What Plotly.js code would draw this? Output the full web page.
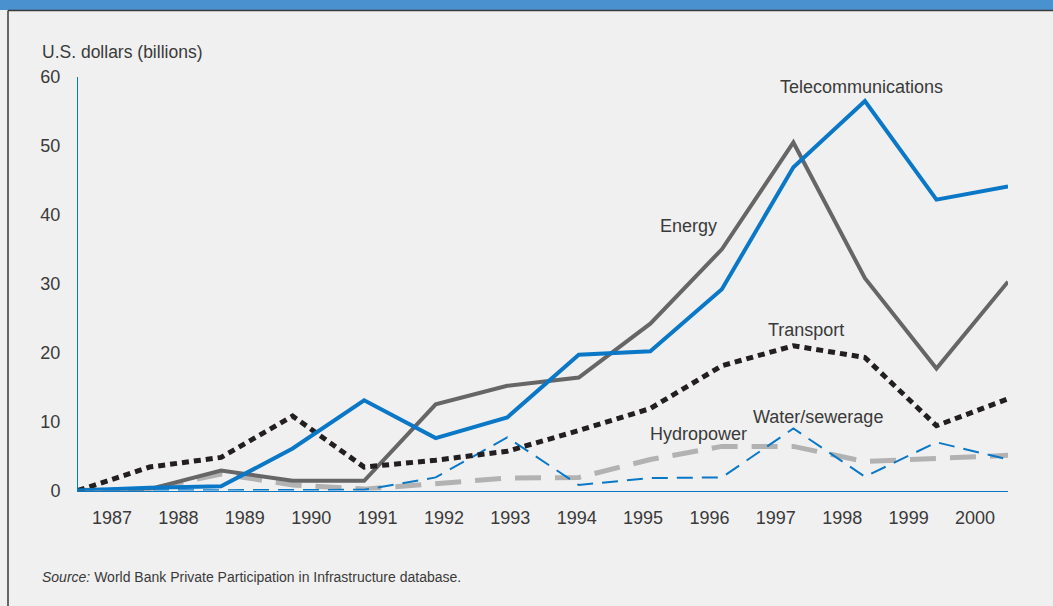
<!DOCTYPE html>
<html>
<head>
<meta charset="utf-8">
<script src="https://cdn.plot.ly/plotly-3.0.1.min.js"></script>
<style>
  body { margin: 0; background: #f0f0f0; }
  #plotArea { width: 1053px; height: 606px; }
</style>
</head>
<body>
<div id="plotArea"></div>
<script>
var years = [1987, 1988, 1989, 1990, 1991, 1992, 1993, 1994, 1995, 1996, 1997, 1998, 1999, 2000];
var telecom = [0, 0.4, 0.6, 6.1, 13.1, 7.6, 10.6, 19.7, 20.2, 29.2, 46.9, 56.5, 42.2, 44.1];
var energy = [0, 0.2, 2.9, 1.4, 1.4, 12.5, 15.2, 16.4, 24.2, 35.0, 50.5, 30.8, 17.7, 30.3];
var transport = [0, 3.4, 4.8, 10.8, 3.4, 4.4, 5.7, 8.7, 11.9, 18.1, 21.0, 19.3, 9.4, 13.3];
var water = [0, 0, 0.1, 0, 0.1, 1.9, 7.7, 0.8, 1.8, 1.9, 9.0, 2.0, 7.0, 4.5];
var hydro = [0, 0.2, 2.4, 0.8, 0.2, 1.0, 1.8, 1.9, 4.5, 6.4, 6.4, 4.2, 4.7, 5.1];

var blue = "#0a78c6";
var textColor = "#3a3a3a";
var font = "Liberation Sans, Arial, Helvetica, sans-serif";

var traceHydro = {
    x: years, y: hydro, mode: "lines", type: "scatter",
    line: {color: "#b2b2b2", width: 5, dash: "26px,14px"}
};
var traceWater = {
    x: years, y: water, mode: "lines", type: "scatter",
    line: {color: blue, width: 2, dash: "16px,9px"}
};
var traceEnergy = {
    x: years, y: energy, mode: "lines", type: "scatter",
    line: {color: "#666666", width: 4}
};
var traceTransport = {
    x: years, y: transport, mode: "lines", type: "scatter",
    line: {color: "#231f20", width: 5, dash: "7px,5px"}
};
var traceTelecom = {
    x: years, y: telecom, mode: "lines", type: "scatter",
    line: {color: blue, width: 4}
};
// empty trace so the label axis gets drawn
var traceLabels = {
    x: years, y: years.map(function() { return null; }),
    xaxis: "x2", mode: "lines", type: "scatter", hoverinfo: "skip"
};

var data = [traceHydro, traceWater, traceEnergy, traceTransport, traceTelecom, traceLabels];

var layout = {
    width: 1053,
    height: 606,
    margin: {l: 0, r: 0, t: 0, b: 0},
    paper_bgcolor: "#f0f0f0",
    plot_bgcolor: "#f0f0f0",
    showlegend: false,
    font: {family: font, size: 18, color: textColor},
    xaxis: {
        domain: [78 / 1053, 1008 / 1053],
        range: [1987, 2000],
        showticklabels: false,
        showgrid: false,
        zeroline: false,
        showline: true,
        linecolor: blue,
        linewidth: 1,
        ticks: ""
    },
    // year labels sit off the data points, so they get their own axis
    xaxis2: {
        overlaying: "x",
        anchor: "y",
        side: "bottom",
        range: [1986.488, 2000.497],
        tickvals: years,
        ticktext: years.map(String),
        showgrid: false,
        zeroline: false,
        showline: false,
        ticks: "",
        ticklabelstandoff: 14,
        tickfont: {size: 18, color: textColor}
    },
    yaxis: {
        domain: [(606 - 490.5) / 606, (606 - 77) / 606],
        range: [0, 60],
        tickvals: [0, 10, 20, 30, 40, 50, 60],
        showgrid: false,
        zeroline: false,
        showline: true,
        linecolor: blue,
        linewidth: 1,
        ticks: "",
        ticklabelstandoff: 13,
        tickfont: {size: 18, color: textColor}
    },
    shapes: [
        {type: "rect", xref: "paper", yref: "paper", x0: 0, x1: 1, y0: 1 - 10 / 606, y1: 1,
         fillcolor: "#4a91cf", line: {width: 0}},
        {type: "line", xref: "paper", yref: "paper", x0: 8 / 1053, x1: 1, y0: 1 - 10.5 / 606, y1: 1 - 10.5 / 606,
         line: {color: "#3a3a3a", width: 1.5}},
        {type: "line", xref: "paper", yref: "paper", x0: 8 / 1053, x1: 8 / 1053, y0: 0, y1: 1 - 10.5 / 606,
         line: {color: "#3a3a3a", width: 1.5}}
    ],
    annotations: [
        {text: "U.S. dollars (billions)", xref: "paper", yref: "paper", x: 40 / 1053, y: 1 - 52 / 606,
         xanchor: "left", yanchor: "middle", showarrow: false, font: {size: 17.5}},
        {text: "Telecommunications", xref: "x", yref: "y", x: 1997.95, y: 58.5, showarrow: false, font: {size: 18}},
        {text: "Energy", xref: "x", yref: "y", x: 1995.53, y: 38.4, showarrow: false, font: {size: 18}},
        {text: "Transport", xref: "x", yref: "y", x: 1997.17, y: 23.3, showarrow: false, font: {size: 18}},
        {text: "Hydropower", xref: "x", yref: "y", x: 1995.68, y: 8.2, showarrow: false, font: {size: 18}},
        {text: "Water/sewerage", xref: "x", yref: "y", x: 1997.34, y: 10.7, showarrow: false, font: {size: 18}},
        {text: "<i>Source:</i> World Bank Private Participation in Infrastructure database.",
         xref: "paper", yref: "paper", x: 40 / 1053, y: 1 - 577 / 606,
         xanchor: "left", yanchor: "middle", showarrow: false, font: {size: 14}}
    ]
};

Plotly.newPlot("plotArea", data, layout, {displayModeBar: false});
</script>
</body>
</html>
